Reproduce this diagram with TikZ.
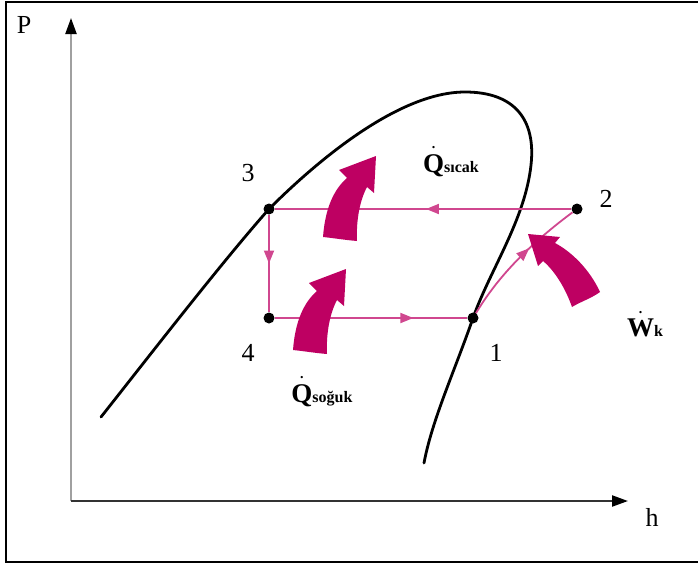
\documentclass[tikz,border=0pt]{standalone}
\usepackage{fontspec}
\setmainfont{Liberation Serif}
\usetikzlibrary{arrows.meta,decorations.markings,positioning}
\definecolor{heatred}{HTML}{BE0062}
\definecolor{cyclepink}{HTML}{D0478F}
\definecolor{axisgray}{HTML}{A0A0A0}
% dot over a rate symbol, kept clear of the letter
\newcommand\ratedot[1]{\leavevmode\vbox{\offinterlineskip\halign{\hfil##\hfil\cr
  {\fontsize{14}{14}\selectfont.}\cr\noalign{\kern5pt}#1\cr}}}

\begin{document}
\begin{tikzpicture}[x=1pt,y=-1pt, every node/.style={font=\fontsize{26}{28}\selectfont},
  dome/.style={line width=2.8pt,black,line cap=round},
  pt/.style={circle,fill=black,inner sep=0pt,minimum size=11pt},
  cyc/.style={draw=cyclepink,line width=1.8pt,postaction={decorate},
    decoration={markings,mark=at position #1 with {\arrow{Triangle[length=13pt,width=10pt]}}}},
  cyc/.default=0.5,
  axis/.style={line width=2.2pt,-{Triangle[length=16pt,width=11pt,color=black]}},
  qlab/.style={font=\fontsize{27}{28}\selectfont\bfseries,inner sep=0pt},
  heatarrow/.pic={\fill[heatred] (0,0) .. controls (2,-27) and (10,-47) .. (24,-59)
    -- (16,-67) -- (53,-81) -- (51,-44) -- (44,-50)
    .. controls (37,-37) and (33,-17) .. (34,4) .. controls (22,3) and (10,1) .. cycle;}]
  \useasboundingbox (0,0) rectangle (698,565);
  % frame
  \draw[line width=2pt] (698,2) -| (6,562) -- (698,562);
  % axes
  \coordinate (o) at (71,501);
  \coordinate (ptop) at (71,18);
  \coordinate (hend) at (628,501);
  \draw[axis,axisgray] (o) -- (ptop);
  \draw[axis,black!80] (o) -- (hend);
  \node (lP) at (24,25) {P};
  \node (lh) at (652,517) {h};
  % saturation dome
  \draw[dome] (101,417) .. controls (150,355) and (222,262) .. (269,209)
    .. controls (320,158) and (400,92) .. (465,92)
    .. controls (515,92) and (536,120) .. (531,165)
    .. controls (525,220) and (490,270) .. (473,318)
    .. controls (455,370) and (432,420) .. (424,463);
  % states
  \node[pt] (p3) at (269,209) {};
  \node[pt] (p4) at (269,318) {};
  \node[pt] (p1) at (473,318) {};
  \node[pt] (p2) at (577,209) {};
  \node (l3) at (248,173) {3};
  \node (l4) at (248,353) {4};
  \node (l1) at (496,353) {1};
  \node (l2) at (606,199) {2};
  % cycle
  \draw[cyc=0.5] (p3) -- (p4);
  \draw[cyc=0.72] (p4) -- (p1);
  \draw[cyc=0.49] (p2) -- (p3);
  \draw[cyc=0.6] (p1) .. controls (490,290) and (515,255) .. (p2);
  % heat and work
  \pic at (323,237) {heatarrow};
  \pic at (293,350) {heatarrow};
  \fill[heatred] (572,307) .. controls (566,290) and (556,272) .. (543,261)
    -- (538,266) -- (528,234) -- (560,237) -- (555,243)
    .. controls (572,252) and (590,270) .. (600,292) .. controls (592,298) and (580,302) .. cycle;
  \node[qlab,anchor=base] (qh) at (451,172) {\ratedot{Q}\fontsize{16}{16}\selectfont sıcak};
  \node[qlab,anchor=base] (qc) at (322,402) {\ratedot{Q}\fontsize{16}{16}\selectfont soğuk};
  \node[qlab,anchor=base] (wk) at (645,336) {\ratedot{W}\fontsize{16}{16}\selectfont k};
\end{tikzpicture}
\end{document}
